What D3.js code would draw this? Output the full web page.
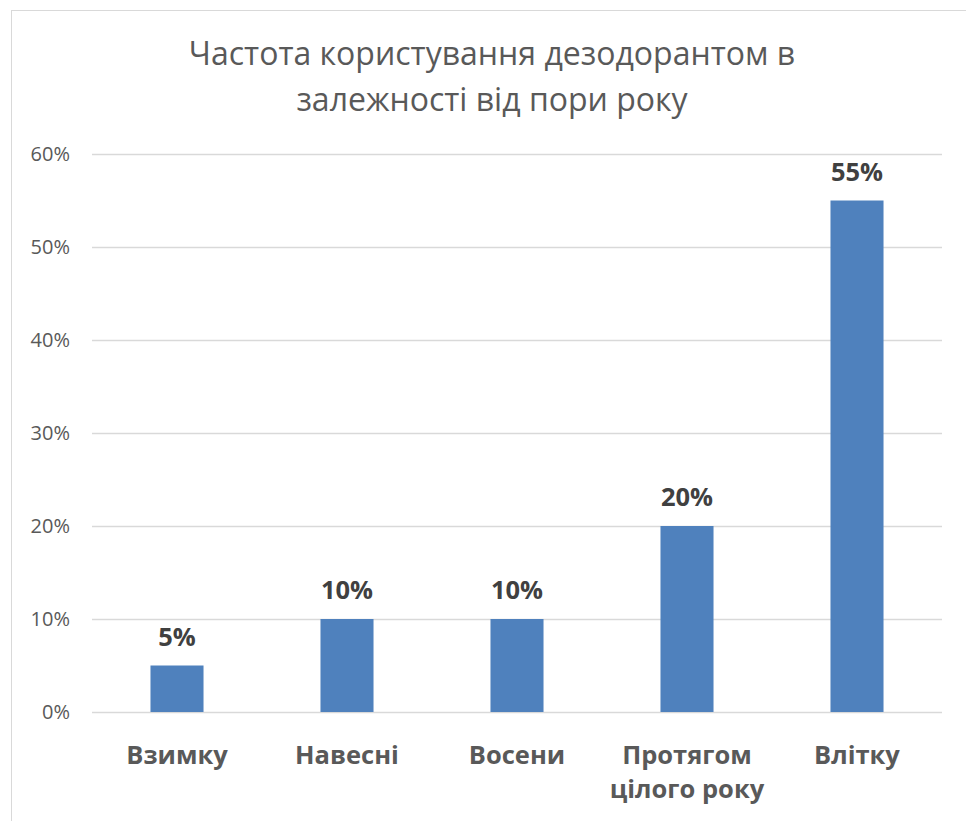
<!DOCTYPE html>
<html><head><meta charset="utf-8">
<script src="https://cdn.jsdelivr.net/npm/d3@7"></script>
<style>body{margin:0;background:#fff}</style>
</head><body>
<svg id="c" width="966" height="821"></svg>
<script>
const categories = [["Взимку"], ["Навесні"], ["Восени"], ["Протягом", "цілого року"], ["Влітку"]];
const values = [0.05, 0.10, 0.10, 0.20, 0.55];
const yTicks = [0, 0.1, 0.2, 0.3, 0.4, 0.5, 0.6];
const titleLines = ["Частота користування дезодорантом в", "залежності від пори року"];

const svg = d3.select("#c");
const font = "'Open Sans', sans-serif";
svg.append("rect").attr("x", 11.5).attr("y", 10.5).attr("width", 1000).attr("height", 900)
  .attr("fill", "#fff").attr("stroke", "#d9d9d9");

const x = d3.scaleBand().domain(d3.range(categories.length)).range([92, 942]).paddingInner(0.688).paddingOuter(0.344);
const y = d3.scaleLinear().domain([0, 0.6]).range([712, 154]);

const yAxis = d3.axisLeft(y).tickValues(yTicks).tickFormat(d3.format(".0%")).tickSize(-850).tickPadding(22);
const gy = svg.append("g").attr("transform", "translate(92,0)").call(yAxis);
gy.select(".domain").remove();
gy.selectAll(".tick line").attr("stroke", "#d9d9d9").attr("stroke-width", 1.3);
gy.selectAll(".tick text").attr("fill", "#595959").attr("font-family", font).attr("font-size", 20);

svg.append("g").selectAll("rect").data(values).join("rect")
  .attr("x", (d, i) => x(i)).attr("width", x.bandwidth())
  .attr("y", d => y(d)).attr("height", d => y(0) - y(d)).attr("fill", "#4F81BD");

svg.append("g").selectAll("text").data(values).join("text")
  .attr("x", (d, i) => x(i) + x.bandwidth() / 2).attr("y", d => y(d) - 20)
  .attr("text-anchor", "middle").attr("font-family", font).attr("font-weight", "bold")
  .attr("font-size", 25.5).attr("fill", "#404040").text(d3.format(".0%"));

const gx = svg.append("g");
categories.forEach((lines, i) => {
  const t = gx.append("text").attr("x", x(i) + x.bandwidth() / 2).attr("y", 764)
    .attr("text-anchor", "middle").attr("font-family", font).attr("font-weight", "bold")
    .attr("font-size", 25.5).attr("fill", "#595959");
  lines.forEach((l, j) => t.append("tspan").attr("x", x(i) + x.bandwidth() / 2).attr("dy", j ? 34 : 0).text(l));
});

const tt = svg.append("text").attr("text-anchor", "middle").attr("font-family", font)
  .attr("font-size", 32).attr("fill", "#595959");
titleLines.forEach((l, j) => tt.append("tspan").attr("x", 492).attr("y", 65 + j * 46).text(l));
</script>
</body></html>
